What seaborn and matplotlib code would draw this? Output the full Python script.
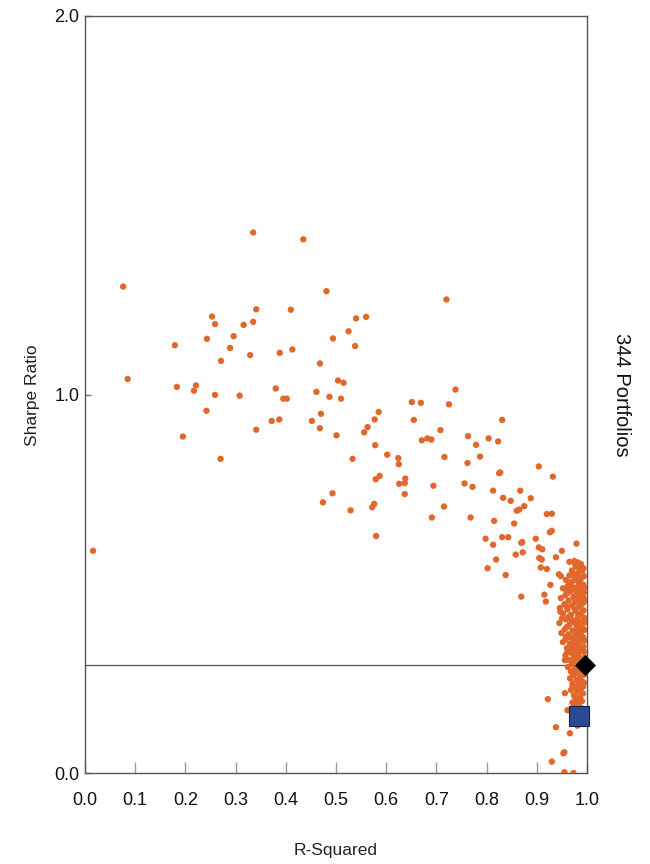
import matplotlib
matplotlib.use("Agg")
import matplotlib.pyplot as plt
import seaborn as sns
import pandas as pd

# ---- data -------------------------------------------------------------
spread_points = [
    (0.016, 0.587), (0.076, 1.285), (0.085, 1.041), (0.179, 1.130), (0.183, 1.020),
    (0.195, 0.889), (0.217, 1.010), (0.221, 1.024), (0.242, 0.957), (0.243, 1.147),
    (0.253, 1.206), (0.259, 1.186), (0.259, 0.999), (0.270, 0.830), (0.271, 1.089),
    (0.289, 1.123), (0.296, 1.154), (0.308, 0.997), (0.316, 1.184), (0.329, 1.104),
    (0.335, 1.428), (0.335, 1.192), (0.341, 1.225), (0.341, 0.907), (0.372, 0.930),
    (0.380, 1.016), (0.387, 0.934), (0.388, 1.110), (0.395, 0.989), (0.402, 0.989),
    (0.410, 1.224), (0.413, 1.119), (0.435, 1.410), (0.452, 0.930), (0.461, 1.007),
    (0.468, 1.082), (0.468, 0.911), (0.470, 0.949), (0.474, 0.715), (0.481, 1.273),
    (0.487, 0.994), (0.493, 0.739), (0.494, 1.148), (0.501, 0.892), (0.504, 1.037),
    (0.510, 0.989), (0.515, 1.031), (0.525, 1.167), (0.529, 0.694), (0.533, 0.830),
    (0.538, 1.128), (0.540, 1.201), (0.556, 0.900), (0.560, 1.205), (0.563, 0.914),
    (0.572, 0.702), (0.576, 0.711), (0.577, 0.934), (0.578, 0.866), (0.579, 0.776),
    (0.580, 0.626), (0.585, 0.954), (0.587, 0.785), (0.602, 0.841), (0.624, 0.832),
    (0.625, 0.816), (0.626, 0.764), (0.637, 0.766), (0.637, 0.737), (0.638, 0.778),
    (0.651, 0.980), (0.655, 0.933), (0.669, 0.978), (0.671, 0.879), (0.682, 0.884),
    (0.690, 0.881), (0.691, 0.675), (0.694, 0.759), (0.708, 0.906), (0.715, 0.704),
    (0.716, 0.835), (0.720, 1.251), (0.725, 0.974), (0.738, 1.013), (0.756, 0.765),
    (0.762, 0.819), (0.763, 0.890), (0.768, 0.675), (0.772, 0.756), (0.779, 0.867),
    (0.787, 0.836), (0.798, 0.619), (0.802, 0.541), (0.804, 0.884), (0.813, 0.746),
    (0.813, 0.603), (0.815, 0.666), (0.819, 0.564), (0.823, 0.876), (0.825, 0.792),
    (0.827, 0.794), (0.831, 0.933), (0.831, 0.623), (0.833, 0.727), (0.838, 0.523),
    (0.843, 0.623), (0.848, 0.719), (0.855, 0.659), (0.858, 0.577), (0.860, 0.693),
    (0.865, 0.696), (0.867, 0.746), (0.869, 0.608), (0.869, 0.466), (0.871, 0.610),
    (0.872, 0.583), (0.875, 0.705), (0.888, 0.726), (0.898, 0.619), (0.904, 0.810),
    (0.904, 0.596), (0.905, 0.568), (0.908, 0.543), (0.910, 0.564), (0.911, 0.591),
    (0.915, 0.471), (0.918, 0.453), (0.920, 0.684), (0.920, 0.539), (0.922, 0.195),
    (0.926, 0.636), (0.927, 0.497), (0.930, 0.685), (0.930, 0.640), (0.930, 0.030),
    (0.932, 0.783), (0.938, 0.570), (0.938, 0.121), (0.944, 0.525), (0.948, 0.520),
    (0.950, 0.587), (0.953, 0.052), (0.955, 0.055), (0.955, 0.002), (0.956, 0.211),
    (0.961, 0.166), (0.966, 0.105), (0.971, 0.228), (0.973, 0.000), (0.979, 0.606),
    (0.981, 0.125),
]

cluster_upper = [
    (0.975, 0.560), (0.982, 0.556), (0.988, 0.552), (0.978, 0.545), (0.985, 0.540),
    (0.970, 0.535), (0.990, 0.533), (0.982, 0.528), (0.965, 0.522), (0.976, 0.518),
    (0.988, 0.515), (0.958, 0.510), (0.970, 0.506), (0.983, 0.503), (0.992, 0.498),
    (0.962, 0.495), (0.977, 0.490), (0.952, 0.488), (0.986, 0.485), (0.968, 0.481),
    (0.980, 0.476), (0.990, 0.472), (0.957, 0.470), (0.973, 0.466), (0.948, 0.462),
    (0.985, 0.460), (0.963, 0.456), (0.978, 0.452), (0.992, 0.449), (0.955, 0.446),
    (0.980, 0.548), (0.972, 0.526), (0.986, 0.507), (0.966, 0.500), (0.981, 0.483),
    (0.962, 0.476), (0.993, 0.463), (0.975, 0.458), (0.965, 0.558), (0.976, 0.552),
    (0.993, 0.541), (0.994, 0.520), (0.995, 0.490), (0.994, 0.477), (0.996, 0.455),
    (0.988, 0.494), (0.979, 0.510), (0.969, 0.492), (0.983, 0.468), (0.959, 0.484),
]

cluster_middle = [
    (0.970, 0.443), (0.984, 0.439), (0.946, 0.436), (0.961, 0.432), (0.977, 0.428),
    (0.990, 0.425), (0.952, 0.421), (0.968, 0.418), (0.982, 0.414), (0.994, 0.410),
    (0.958, 0.406), (0.974, 0.402), (0.987, 0.399), (0.945, 0.396), (0.965, 0.392),
    (0.980, 0.388), (0.991, 0.384), (0.956, 0.380), (0.971, 0.377), (0.985, 0.373),
    (0.949, 0.370), (0.963, 0.366), (0.978, 0.362), (0.992, 0.359), (0.958, 0.354),
    (0.973, 0.350), (0.986, 0.347), (0.966, 0.342), (0.980, 0.338), (0.993, 0.334),
    (0.960, 0.330), (0.975, 0.326), (0.988, 0.322), (0.968, 0.318), (0.982, 0.314),
    (0.957, 0.310), (0.974, 0.306), (0.990, 0.303), (0.964, 0.299), (0.979, 0.296),
    (0.986, 0.292), (0.988, 0.444), (0.960, 0.440), (0.975, 0.435), (0.993, 0.430),
    (0.947, 0.426), (0.985, 0.420), (0.963, 0.412), (0.950, 0.408), (0.977, 0.395),
    (0.960, 0.386), (0.995, 0.378), (0.975, 0.372), (0.988, 0.365), (0.968, 0.358),
    (0.983, 0.352), (0.952, 0.346), (0.972, 0.337), (0.985, 0.330), (0.994, 0.320),
    (0.975, 0.312), (0.960, 0.318), (0.985, 0.300), (0.970, 0.295), (0.958, 0.360),
    (0.956, 0.298), (0.996, 0.398), (0.995, 0.350), (0.996, 0.305), (0.981, 0.404),
    (0.969, 0.405), (0.983, 0.380), (0.978, 0.344), (0.967, 0.330),
]

cluster_lower = [
    (0.970, 0.288), (0.983, 0.284), (0.962, 0.280), (0.976, 0.276), (0.989, 0.272),
    (0.968, 0.268), (0.981, 0.264), (0.973, 0.259), (0.987, 0.255), (0.966, 0.250),
    (0.979, 0.246), (0.991, 0.242), (0.971, 0.237), (0.984, 0.233), (0.975, 0.228),
    (0.988, 0.224), (0.968, 0.219), (0.981, 0.215), (0.992, 0.210), (0.974, 0.205),
    (0.986, 0.200), (0.977, 0.195), (0.990, 0.190), (0.971, 0.186), (0.983, 0.180),
    (0.975, 0.176), (0.988, 0.172), (0.992, 0.280), (0.978, 0.268), (0.985, 0.248),
    (0.979, 0.222), (0.992, 0.228), (0.983, 0.198), (0.979, 0.188), (0.995, 0.260),
    (0.994, 0.238), (0.990, 0.168), (0.985, 0.136),
]

benchmark_point = (0.996, 0.285)   # black diamond + reference line
selected_point = (0.984, 0.151)    # blue square

x_ticks = [0.0, 0.1, 0.2, 0.3, 0.4, 0.5, 0.6, 0.7, 0.8, 0.9, 1.0]
y_ticks = [0.0, 1.0, 2.0]
portfolio_label = "344 Portfolios"

# ---- build dataframe ---------------------------------------------------
all_pts = spread_points + cluster_upper + cluster_middle + cluster_lower
df = pd.DataFrame(all_pts, columns=["R-Squared", "Sharpe Ratio"])

# ---- figure ------------------------------------------------------------
sns.set_style("white")
plt.rcParams["font.family"] = ["Liberation Sans", "DejaVu Sans"]

fig = plt.figure(figsize=(6.5, 8.64), dpi=100)
ax = fig.add_axes([85 / 650, 1 - 773 / 864, 502 / 650, 757 / 864])

orange = "#E2672C"
sns.scatterplot(data=df, x="R-Squared", y="Sharpe Ratio", ax=ax,
                color=orange, s=21, linewidth=0, edgecolor="none", zorder=3)

# reference line and markers
ax.plot([0, benchmark_point[0]], [benchmark_point[1], benchmark_point[1]],
        color="#555555", lw=0.9, zorder=2)
ax.scatter([benchmark_point[0]], [benchmark_point[1]], marker="D", s=95,
           color="black", zorder=5, clip_on=False)
ax.scatter([selected_point[0]], [selected_point[1]], marker="s", s=200,
           facecolor="#2B4A93", edgecolor="#14224A", linewidth=0.8,
           zorder=6, clip_on=False)

ax.set_xlim(0, 1)
ax.set_ylim(0, 2)

ax.set_xticks(x_ticks)
ax.set_xticklabels([f"{t:.1f}" for t in x_ticks])
ax.set_yticks(y_ticks)
ax.set_yticklabels([f"{t:.1f}" for t in y_ticks])

narrow = ["Liberation Sans Narrow", "Liberation Sans", "DejaVu Sans"]
for lab in ax.get_xticklabels() + ax.get_yticklabels():
    lab.set_family(narrow)
    lab.set_fontsize(13)
    lab.set_color("#111111")

ax.tick_params(axis="x", direction="in", length=8, width=1, color="#999999",
               pad=14, bottom=True)
ax.tick_params(axis="y", direction="in", length=4, width=1, color="#777777",
               pad=4, left=True)

for sp in ax.spines.values():
    sp.set_color("#555555")
    sp.set_linewidth(1.0)
    sp.set_visible(True)

ax.set_xlabel("")
ax.set_ylabel("")
fig.text(336 / 650, 1 - 851 / 864, "R-Squared", ha="center", va="center",
         fontsize=12.5, color="#222222")
fig.text(33 / 650, 1 - 395 / 864, "Sharpe Ratio", ha="center", va="center",
         rotation=90, fontsize=12.5, color="#222222")
fig.text(622 / 650, 1 - 395 / 864, portfolio_label, ha="center", va="center",
         rotation=270, fontsize=14.5, color="#111111")

fig.savefig("out.png", dpi=100)
